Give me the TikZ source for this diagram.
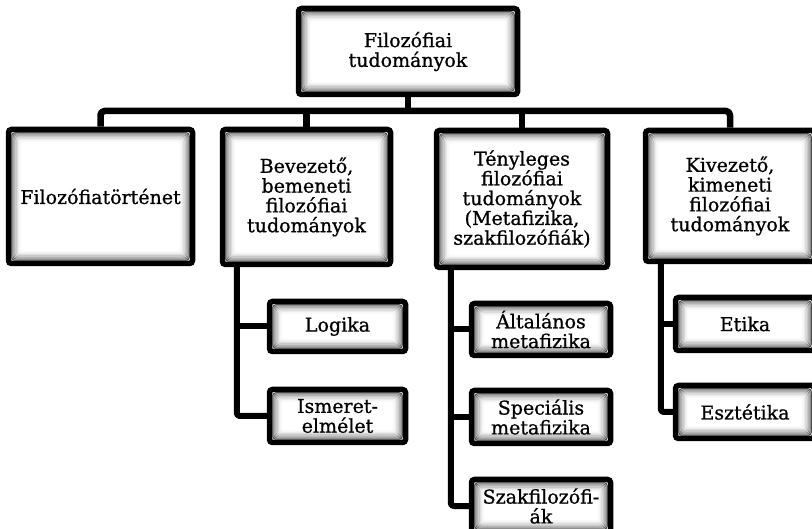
\documentclass[tikz,border=0pt]{standalone}
\usepackage{fontspec}
\setmainfont{DejaVu Serif}
\newfontfamily\boxfont{DejaVu Serif}[BoldFont={DejaVu Serif},BoldFeatures={FakeBold=0.9}]
\usetikzlibrary{calc}
\begin{document}
\begin{tikzpicture}[x=1pt,y=-1pt,
  box/.style={draw=black, line width=5.5pt, rounded corners=3pt, fill=white,
    align=center, inner sep=0pt, font=\boxfont\bfseries\fontsize{19}{19.8}\selectfont,
    path picture={
      \foreach \i/\c in {0/68,1/54,2/42,3/31,4/22,5/14,6/8,7/4,8/2}{
        \draw[black!\c, line width=1.1pt]
          ([shift={(\i*1.1pt+3.3pt,-\i*1.1pt-3.3pt)}]path picture bounding box.north west)
          rectangle
          ([shift={(-\i*1.1pt-3.3pt,\i*1.1pt+3.3pt)}]path picture bounding box.south east);
      }
    }},
  conn/.style={draw=black, line width=6.5pt, line join=round},
  sub/.style={draw=black, line width=6pt, line join=round}]
\useasboundingbox (0,0) rectangle (812,529);

\node[box, minimum width=219pt, minimum height=86pt] (top) at (408,51.5) {Filozófiai\\tudományok};

\node[box, minimum width=184pt, minimum height=134pt] (fil) at (100.5,196.5) {Filozófiatörténet};
\node[box, minimum width=168pt, minimum height=135pt] (bev) at (306.5,197) {Bevezető,\\bemeneti\\filozófiai\\tudományok};
\node[box, minimum width=171pt, minimum height=137pt] (teny) at (522,199) {Tényleges\\filozófiai\\tudományok\\(Metafizika,\\szakfilozófiák)};
\node[box, minimum width=169pt, minimum height=131pt] (kiv) at (730,196) {Kivezető,\\kimeneti\\filozófiai\\tudományok};

\node[box, minimum width=136pt, minimum height=50pt] (log) at (337.5,326.5) {Logika};
\node[box, minimum width=136pt, minimum height=53pt] (ism) at (337.5,416) {Ismeret-\\elmélet};

\node[box, minimum width=139pt, minimum height=52pt] (alt) at (541,329.5) {Általános\\metafizika};
\node[box, minimum width=139pt, minimum height=53pt] (spec) at (541,417) {Speciális\\metafizika};
\node[box, minimum width=139pt, minimum height=53pt] (szak) at (541,506) {Szakfilozófi-\\ák};

\node[box, minimum width=139pt, minimum height=53pt] (eti) at (745,324) {Etika};
\node[box, minimum width=139pt, minimum height=53pt] (esz) at (745,412) {Esztétika};

\coordinate (bar) at (408,111);
\draw[conn] (top.south) -- (top.south |- bar);
\draw[conn, rounded corners=4pt] (fil.north) |- (kiv.north |- bar) -- (kiv.north);
\draw[conn] (bev.north) -- (bev.north |- bar);
\draw[conn] (teny.north) -- (teny.north |- bar);

\draw[sub, rounded corners=3pt] ([xshift=17pt]bev.south west) |- (ism.west);
\draw[sub] ([xshift=17pt]bev.south west) |- (log.west);

\draw[sub, rounded corners=3pt] ([xshift=17pt]teny.south west) |- (szak.west);
\draw[sub] ([xshift=17pt]teny.south west) |- (alt.west);
\draw[sub] ([xshift=17pt]teny.south west) |- (spec.west);

\draw[sub, rounded corners=3pt] ([xshift=18pt]kiv.south west) |- (esz.west);
\draw[sub] ([xshift=18pt]kiv.south west) |- (eti.west);
\end{tikzpicture}
\end{document}
